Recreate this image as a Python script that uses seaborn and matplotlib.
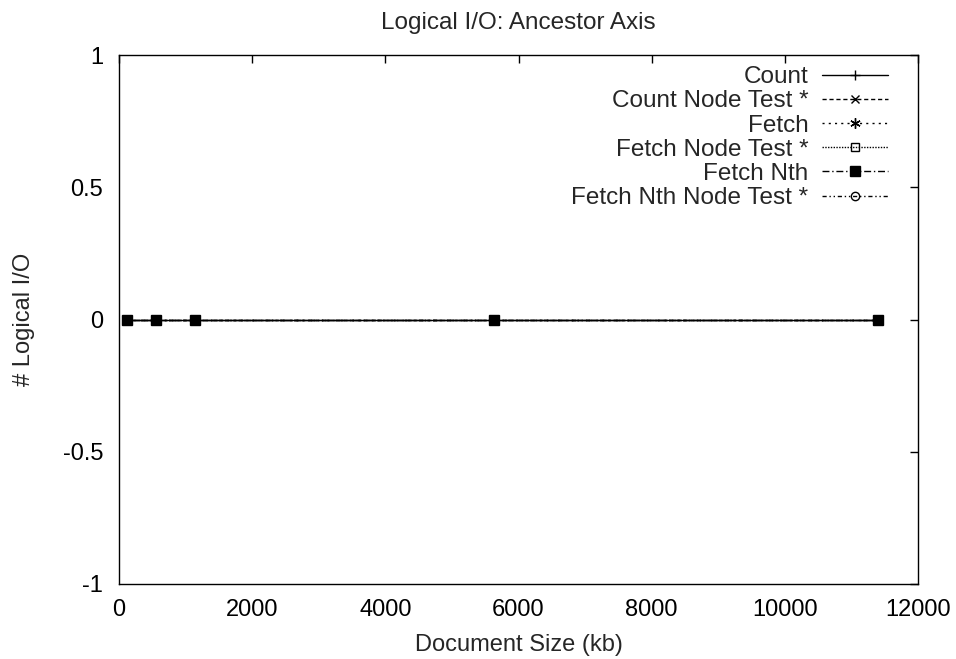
import matplotlib
matplotlib.use("Agg")
import matplotlib.pyplot as plt
import seaborn as sns
import pandas as pd

doc_size_kb = [116, 556, 1138, 5635, 11394]
count = [0, 0, 0, 0, 0]
count_node_test = [0, 0, 0, 0, 0]
fetch = [0, 0, 0, 0, 0]
fetch_node_test = [0, 0, 0, 0, 0]
fetch_nth = [0, 0, 0, 0, 0]
fetch_nth_node_test = [0, 0, 0, 0, 0]

series_names = ["Count", "Count Node Test *", "Fetch", "Fetch Node Test *",
                "Fetch Nth", "Fetch Nth Node Test *"]
series_values = [count, count_node_test, fetch, fetch_node_test,
                 fetch_nth, fetch_nth_node_test]
x_ticks = [0, 2000, 4000, 6000, 8000, 10000, 12000]
y_ticks = [-1, -0.5, 0, 0.5, 1]
y_tick_labels = ["-1", "-0.5", "0", "0.5", "1"]

sns.set_style("white")
plt.rcParams['font.family'] = ['Liberation Sans', 'DejaVu Sans']

fig = plt.figure(figsize=(9.56, 6.59), dpi=100)
ax = fig.add_axes([119/956, 1-584/659, (918-119)/956, (584-55)/659])

styles = [
    dict(ls='-', marker='+', ms=6, lms=7.5, mfc='black', z=3),
    dict(ls=(0, (3, 2)), marker='x', ms=5, lms=6, mfc='black', z=3),
    dict(ls=(0, (1.5, 3)), marker=(6, 2, 0), ms=6, lms=7.5, mfc='black', z=3),
    dict(ls=(0, (1, 1)), marker='s', ms=5, lms=6, mfc='none', z=3),
    dict(ls=(0, (5, 2, 1, 2)), marker='s', ms=6.5, lms=7, mfc='black', z=5),
    dict(ls=(0, (3, 2, 1, 2, 1, 2)), marker='o', ms=5, lms=6, mfc='none', z=4),
]

for name, vals, st in zip(series_names, series_values, styles):
    df = pd.DataFrame({"x": doc_size_kb, "y": vals})
    sns.lineplot(data=df, x="x", y="y", ax=ax, color='black', lw=1,
                 linestyle=st['ls'], marker=st['marker'], markersize=st['ms'],
                 markerfacecolor=st['mfc'], markeredgecolor='black',
                 markeredgewidth=1, zorder=st['z'], legend=False)

ax.set_xlim(0, 12000)
ax.set_ylim(-1, 1)
ax.set_xticks(x_ticks)
ax.set_xticklabels([str(t) for t in x_ticks])
ax.set_yticks(y_ticks)
ax.set_yticklabels(y_tick_labels)
ax.tick_params(direction='in', length=6, width=1, top=True, right=True,
               labelsize=17, colors='black')
ax.tick_params(axis='x', pad=10.5)
ax.tick_params(axis='y', pad=11.5)
for s in ax.spines.values():
    s.set_color('black')
    s.set_linewidth(1)

ax.set_xlabel("Document Size (kb)", fontsize=17, labelpad=9.5)
ax.set_ylabel("# Logical I/O", fontsize=17, labelpad=20)
ax.set_title("Logical I/O: Ancestor Axis", fontsize=17.5, pad=18.5)

handles = list(ax.lines)[:len(series_names)]
leg = ax.legend(handles, series_names, loc='upper right',
                bbox_to_anchor=((888-119)/799, 0.979),
                frameon=False, markerfirst=False, fontsize=17.5,
                handlelength=2.7, handletextpad=0.58, labelspacing=0.09,
                borderaxespad=0, borderpad=0)
for t in leg.get_texts():
    t.set_ha('right')
leg._legend_box.align = "right"
for h, st in zip(leg.legend_handles, styles):
    h.set_markersize(st['lms'])

fig.savefig("out.png", dpi=100)
